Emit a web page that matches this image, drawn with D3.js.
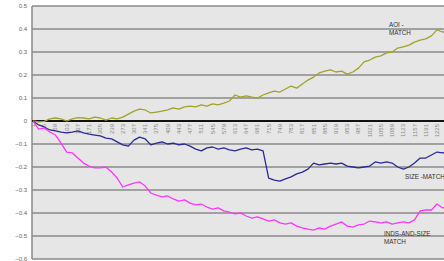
<!DOCTYPE html>
<html lang="en">
  <head>
    <meta charset="UTF-8" />
    <title>Match series</title>
    <script src="https://d3js.org/d3.v7.min.js"></script>
    <style>
      body { margin: 0; background: #fff; }
      svg { display: block; font-family: "Liberation Sans", Arial, sans-serif; }
      .tick-y { font-size: 6px; fill: #666; }
      .tick-x { font-size: 6px; fill: #888; }
      .series-label { font-size: 6.3px; fill: #333; }
    </style>
  </head>
  <body>
    <svg width="444" height="261"></svg>
    <script>
      // observation numbers the series are sampled at
      const obs = [1, 18, 35, 52, 69, 86, 103, 120, 137, 154, 171, 188, 205, 222, 239,
        256, 273, 290, 307, 324, 341, 358, 375, 392, 409, 426, 443, 460, 477, 494,
        511, 528, 545, 562, 579, 596, 613, 630, 647, 664, 681, 698, 715, 732, 749,
        766, 783, 800, 817, 834, 851, 868, 885, 902, 919, 936, 953, 970, 987, 1004,
        1021, 1038, 1055, 1072, 1089, 1106, 1123, 1140, 1157, 1174, 1191, 1208, 1225, 1242, 1259];

      const aoiMatch = [0, -0.004, -0.002, 0.009, 0.013, 0.009, 0, 0.009, 0.015, 0.013,
        0.009, 0.017, 0.013, 0.004, 0.013, 0.009, 0.017, 0.03, 0.043, 0.052,
        0.048, 0.035, 0.039, 0.043, 0.048, 0.057, 0.052, 0.061, 0.065, 0.061,
        0.07, 0.065, 0.074, 0.07, 0.078, 0.087, 0.113, 0.104, 0.109, 0.104,
        0.1, 0.113, 0.122, 0.13, 0.126, 0.139, 0.152, 0.143, 0.161, 0.178,
        0.191, 0.209, 0.217, 0.222, 0.213, 0.217, 0.204, 0.213, 0.23, 0.257,
        0.265, 0.278, 0.283, 0.296, 0.3, 0.317, 0.322, 0.33, 0.343, 0.352,
        0.357, 0.37, 0.396, 0.387, 0.391];

      const sizeMatch = [0, -0.017, -0.026, -0.039, -0.043, -0.048, -0.052, -0.048, -0.043, -0.052,
        -0.057, -0.061, -0.065, -0.074, -0.078, -0.091, -0.104, -0.109, -0.083, -0.07,
        -0.078, -0.104, -0.096, -0.091, -0.1, -0.096, -0.104, -0.1, -0.109, -0.122,
        -0.13, -0.117, -0.113, -0.122, -0.117, -0.126, -0.13, -0.122, -0.117, -0.126,
        -0.122, -0.13, -0.248, -0.257, -0.261, -0.252, -0.243, -0.23, -0.222, -0.209,
        -0.183, -0.191, -0.187, -0.183, -0.187, -0.183, -0.196, -0.2, -0.204, -0.2,
        -0.196, -0.178, -0.183, -0.178, -0.183, -0.2, -0.209, -0.2, -0.183, -0.161,
        -0.161, -0.148, -0.135, -0.139, -0.135];

      const indsAndSizeMatch = [0, -0.035, -0.03, -0.048, -0.061, -0.096, -0.135, -0.139, -0.161, -0.183,
        -0.196, -0.204, -0.204, -0.2, -0.222, -0.248, -0.287, -0.278, -0.27, -0.265,
        -0.283, -0.313, -0.322, -0.33, -0.326, -0.339, -0.348, -0.343, -0.357, -0.365,
        -0.361, -0.374, -0.383, -0.378, -0.391, -0.396, -0.404, -0.4, -0.413, -0.422,
        -0.417, -0.426, -0.435, -0.43, -0.443, -0.448, -0.443, -0.457, -0.465, -0.47,
        -0.474, -0.465, -0.47, -0.457, -0.448, -0.439, -0.457, -0.461, -0.452, -0.448,
        -0.435, -0.439, -0.443, -0.439, -0.448, -0.443, -0.439, -0.443, -0.43, -0.391,
        -0.387, -0.387, -0.361, -0.378, -0.374];

      const xTickLabels = [1, 35, 69, 103, 137, 171, 205, 239, 273, 307, 341, 375, 409,
        443, 477, 511, 545, 579, 613, 647, 681, 715, 749, 783, 817, 851, 885, 919,
        953, 987, 1021, 1055, 1089, 1123, 1157, 1191, 1225];
      const yTickLabels = [0.5, 0.4, 0.3, 0.2, 0.1, 0, -0.1, -0.2, -0.3, -0.4, -0.5, -0.6];

      const svg = d3.select('svg');
      const plotL = 32, plotR = 444, plotT = 6, plotB = 259;

      const x = d3.scaleLinear().domain([1, 1225]).range([33, 437]);
      const y = d3.scaleLinear().domain([-0.6, 0.5]).range([plotB, plotT]);

      const defs = svg.append('defs');
      defs.append('clipPath').attr('id', 'plot')
        .append('rect').attr('x', plotL).attr('y', plotT)
        .attr('width', plotR - plotL).attr('height', plotB - plotT);

      // grey plot background
      svg.append('rect').attr('x', plotL).attr('y', plotT)
        .attr('width', plotR - plotL).attr('height', plotB - plotT)
        .attr('fill', '#e6e6e6');

      // gridlines
      svg.append('g')
        .selectAll('line')
        .data(yTickLabels.filter((d) => d !== 0))
        .join('line')
        .attr('x1', plotL).attr('x2', plotR)
        .attr('y1', (d) => y(d)).attr('y2', (d) => y(d))
        .attr('stroke', '#8a8a8a').attr('stroke-width', 1.5);

      // y axis
      svg.append('line')
        .attr('x1', plotL).attr('x2', plotL).attr('y1', plotT).attr('y2', plotB)
        .attr('stroke', '#8a8a8a').attr('stroke-width', 1.5);
      svg.append('g')
        .selectAll('text')
        .data(yTickLabels)
        .join('text')
        .attr('class', 'tick-y')
        .attr('x', 27).attr('y', (d) => y(d) + 2)
        .attr('text-anchor', 'end')
        .text((d) => (d === 0 ? '0' : d3.format('.1f')(d)));

      // x axis along zero
      svg.append('g')
        .selectAll('text')
        .data(xTickLabels)
        .join('text')
        .attr('class', 'tick-x')
        .attr('transform', (d) => `translate(${x(d) + 2},124) rotate(-90)`)
        .attr('text-anchor', 'end')
        .text((d) => d);
      svg.append('line')
        .attr('x1', plotL).attr('x2', plotR).attr('y1', y(0)).attr('y2', y(0))
        .attr('stroke', '#111').attr('stroke-width', 2.2);

      const line = d3.line()
        .x((d, i) => x(obs[i]))
        .y((d) => y(d));

      const series = [
        { values: aoiMatch, color: '#a3a228' },
        { values: sizeMatch, color: '#2a2a94' },
        { values: indsAndSizeMatch, color: '#ff35ff' },
      ];

      svg.append('g')
        .attr('clip-path', 'url(#plot)')
        .selectAll('path')
        .data(series)
        .join('path')
        .attr('fill', 'none')
        .attr('stroke', (d) => d.color)
        .attr('stroke-width', 1.3)
        .attr('stroke-linejoin', 'round')
        .attr('d', (d) => line(d.values));

      // series labels
      const labels = [
        { lines: ['AOI -', 'MATCH'], x: 389, y: 27 },
        { lines: ['SIZE -MATCH'], x: 405, y: 179 },
        { lines: ['INDS-AND-SIZE', 'MATCH'], x: 384, y: 236 },
      ];
      const lt = svg.append('g')
        .selectAll('text')
        .data(labels)
        .join('text')
        .attr('class', 'series-label')
        .attr('x', (d) => d.x).attr('y', (d) => d.y);
      lt.selectAll('tspan')
        .data((d) => d.lines.map((t) => ({ t, x: d.x })))
        .join('tspan')
        .attr('x', (d) => d.x)
        .attr('dy', (d, i) => (i ? 7.5 : 0))
        .text((d) => d.t);
    </script>
  </body>
</html>
